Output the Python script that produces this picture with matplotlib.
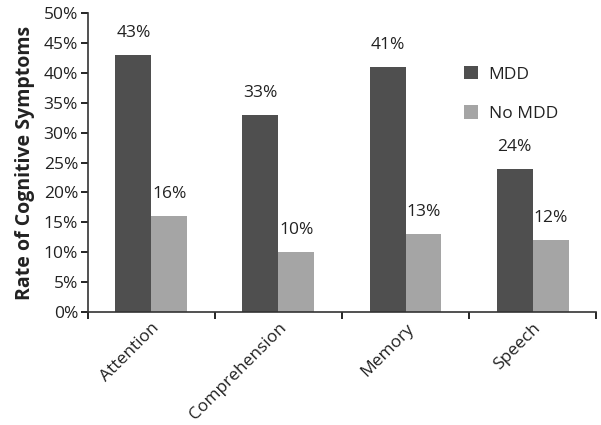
import matplotlib
matplotlib.use('Agg')
import matplotlib.pyplot as plt
import numpy as np
from matplotlib.ticker import PercentFormatter

plt.rcParams['font.family'] = ['Open Sans', 'DejaVu Sans']

# data
categories = ['Attention', 'Comprehension', 'Memory', 'Speech']
mdd = [43, 33, 41, 24]
no_mdd = [16, 10, 13, 12]
series_names = ['MDD', 'No MDD']

dark = '#4f4f4f'
light = '#a5a5a5'
txt = '#222222'

fig = plt.figure(figsize=(6.01, 4.25), dpi=100)
ax = fig.add_axes([0.146, 0.266, 0.846, 0.703])

x = np.arange(len(categories))
w = 0.283
b1 = ax.bar(x - w / 2, mdd, w, color=dark, label=series_names[0])
b2 = ax.bar(x + w / 2, no_mdd, w, color=light, label=series_names[1])

for bars, vals in [(b1, mdd), (b2, no_mdd)]:
    for rect, v in zip(bars, vals):
        ax.annotate(f'{v}%', (rect.get_x() + rect.get_width() / 2, v),
                    xytext=(0, 10), textcoords='offset points',
                    ha='center', va='bottom', fontsize=12.5, color=txt)

ax.set_xlim(-0.5, len(categories) - 0.5)
ax.set_ylim(0, 50)
ax.set_yticks(np.arange(0, 51, 5))
ax.yaxis.set_major_formatter(PercentFormatter(decimals=0))
ax.set_ylabel('Rate of Cognitive Symptoms', fontsize=14, fontweight='bold',
              labelpad=6, color=txt)

# category boundary ticks, labels at centres
ax.set_xticks(np.arange(-0.5, len(categories)), minor=True)
ax.set_xticks(x)
ax.set_xticklabels(categories, rotation=45, ha='right', rotation_mode='anchor',
                   fontsize=12.5, color=txt)
ax.tick_params(axis='x', which='major', length=0, pad=6)
ax.tick_params(axis='x', which='minor', length=5, width=1.2, direction='out')
ax.tick_params(axis='y', length=5, width=1.2, direction='out', labelsize=12.5,
               pad=2, labelcolor=txt)

for s in ['top', 'right']:
    ax.spines[s].set_visible(False)
for s in ['left', 'bottom']:
    ax.spines[s].set_linewidth(1.2)
    ax.spines[s].set_color('#333333')

ax.legend(loc='upper left', bbox_to_anchor=(0.71, 0.875), frameon=False,
          fontsize=12.5, handlelength=0.8, handleheight=0.8, labelspacing=1.3,
          handletextpad=0.6, labelcolor=txt)

fig.savefig('out.png', dpi=100)
